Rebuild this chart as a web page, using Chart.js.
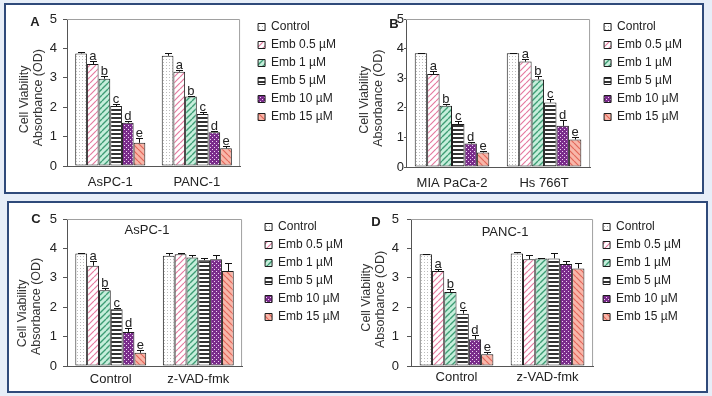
<!DOCTYPE html>
<html>
<head>
<meta charset="utf-8">
<script src="https://cdn.jsdelivr.net/npm/chart.js@4.4.0/dist/chart.umd.min.js"></script>
<style>
  html, body { margin: 0; padding: 0; background: #e7eef8; }
  body { width: 712px; height: 396px; position: relative; overflow: hidden; }
  .box { position: absolute; background: #fff; border: 2px solid #2f4a7a; box-sizing: border-box; }
  canvas { position: absolute; }
</style>
</head>
<body>
<div class="box" style="left:4px;top:3px;width:700px;height:191px"></div>
<div class="box" style="left:7px;top:201px;width:701px;height:192px"></div>
<canvas id="pA" width="334" height="187" style="left:12px;top:5px"></canvas>
<canvas id="pB" width="340" height="188" style="left:352px;top:5px"></canvas>
<canvas id="pC" width="343" height="187" style="left:10px;top:205px"></canvas>
<canvas id="pD" width="337" height="187" style="left:354px;top:205px"></canvas>
<script>
/* ─── Data ───────────────────────────────────────────────────────────────── */
const SERIES      = ['Control', 'Emb 0.5 µM', 'Emb 1 µM', 'Emb 5 µM', 'Emb 10 µM', 'Emb 15 µM'];
const SIG_LETTERS = ['', 'a', 'b', 'c', 'd', 'e'];

const catsA   = ['AsPC-1', 'PANC-1'];
const aspc1   = [3.83, 3.47, 2.97, 2.04, 1.47, 0.79];
const aspc1E  = [0.04, 0.11, 0.08, 0.08, 0.05, 0.16];
const panc1   = [3.75, 3.21, 2.36, 1.77, 1.15, 0.60];
const panc1E  = [0.10, 0.04, 0.03, 0.07, 0.04, 0.08];

const catsB   = ['MIA PaCa-2', 'Hs 766T'];
const mia     = [3.84, 3.14, 2.07, 1.45, 0.79, 0.49];
const miaE    = [0.02, 0.10, 0.07, 0.11, 0.04, 0.04];
const hs766   = [3.84, 3.56, 2.96, 2.18, 1.39, 0.93];
const hs766E  = [0.02, 0.08, 0.10, 0.11, 0.19, 0.09];

const catsCD  = ['Control', 'z-VAD-fmk'];
const cCtrl   = [3.83, 3.41, 2.58, 1.93, 1.16, 0.45];
const cCtrlE  = [0.02, 0.16, 0.08, 0.05, 0.14, 0.11];
const cZvad   = [3.75, 3.80, 3.69, 3.60, 3.63, 3.23];
const cZvadE  = [0.10, 0.05, 0.09, 0.08, 0.15, 0.28];
const dCtrl   = [3.80, 3.23, 2.52, 1.78, 0.91, 0.40];
const dCtrlE  = [0.02, 0.07, 0.09, 0.14, 0.14, 0.08];
const dZvad   = [3.83, 3.63, 3.66, 3.66, 3.47, 3.32];
const dZvadE  = [0.06, 0.14, 0.03, 0.20, 0.11, 0.20];

const FONT = "'Liberation Sans', Arial, sans-serif";

/* ─── Fill patterns ──────────────────────────────────────────────────────── */
function pattern(kind) {
  const c = document.createElement('canvas');
  const g = c.getContext('2d');
  const size = { dots: 3, pink: 6, green: 6, lines: 4, purple: 4, salmon: 6 }[kind];
  c.width = c.height = size;
  const diag = (color, w, down) => {
    g.strokeStyle = color; g.lineWidth = w; g.beginPath();
    for (const k of [-size, 0, size]) {
      if (down) { g.moveTo(k, 0); g.lineTo(k + size, size); }
      else      { g.moveTo(k, size); g.lineTo(k + size, 0); }
    }
    g.stroke();
  };
  if (kind === 'dots')   { g.fillStyle = '#fff'; g.fillRect(0, 0, 3, 3); g.fillStyle = '#bdbdbd'; g.fillRect(1, 0, 1, 1); }
  if (kind === 'pink')   { g.fillStyle = '#fff'; g.fillRect(0, 0, 6, 6); diag('#e57aa0', 1.2, false); }
  if (kind === 'green')  { g.fillStyle = '#c6eedb'; g.fillRect(0, 0, 6, 6); diag('#3d9c74', 1.4, false); }
  if (kind === 'lines')  { g.fillStyle = '#fff'; g.fillRect(0, 0, 4, 4); g.fillStyle = '#333'; g.fillRect(0, 0, 4, 2); }
  if (kind === 'purple') { g.fillStyle = '#7a2c8b'; g.fillRect(0, 0, 4, 4); g.fillStyle = '#efd6f3'; g.fillRect(0, 0, 1, 1); g.fillRect(2, 2, 1, 1); }
  if (kind === 'salmon') { g.fillStyle = '#f8b6a9'; g.fillRect(0, 0, 6, 6); diag('#e2675a', 1.2, true); }
  return g.createPattern(c, 'repeat');
}
const FILLS = ['dots', 'pink', 'green', 'lines', 'purple', 'salmon'].map(pattern);

/* ─── Plot frame, error bars, letters, panel labels ─────────────────────── */
const decor = {
  id: 'decor',
  beforeDatasetsDraw(chart) {
    const { ctx, chartArea: a } = chart;
    ctx.save();
    ctx.strokeStyle = '#a0a0a0';
    ctx.lineWidth = 1;
    ctx.beginPath();
    ctx.moveTo(a.left, a.top + 0.5);
    ctx.lineTo(a.right - 0.5, a.top + 0.5);
    ctx.lineTo(a.right - 0.5, a.bottom);
    ctx.stroke();
    ctx.restore();
  },
  afterDatasetsDraw(chart, args, o) {
    const { ctx, chartArea: a } = chart;
    const y = chart.scales.y;
    ctx.save();
    ctx.strokeStyle = '#111';
    ctx.lineWidth = 1;
    ctx.fillStyle = '#222';
    ctx.textAlign = 'center';
    chart.data.datasets.forEach((ds, i) => {
      chart.getDatasetMeta(i).data.forEach((bar, j) => {
        const top = Math.round(y.getPixelForValue(ds.data[j] + ds.errors[j])) + 0.5;
        const x = Math.round(bar.x) + 0.5;
        ctx.beginPath();
        ctx.moveTo(x, bar.y); ctx.lineTo(x, top);
        ctx.moveTo(x - 3.5, top); ctx.lineTo(x + 3.5, top);
        ctx.stroke();
        if (o.sig.includes(j) && SIG_LETTERS[i]) {
          ctx.font = `13px ${FONT}`;
          ctx.textBaseline = 'bottom';
          ctx.fillText(SIG_LETTERS[i], bar.x, top + 1);
        }
      });
    });
    ctx.textBaseline = 'middle';
    ctx.font = `bold 13px ${FONT}`;
    ctx.fillText(o.letter, a.left + o.letterDx, a.top + o.letterDy);
    if (o.title) {
      ctx.font = `13px ${FONT}`;
      ctx.fillText(o.title, a.left + o.titleDx, a.top + o.titleDy);
    }
    ctx.restore();
  }
};

/* ─── Panel builder ──────────────────────────────────────────────────────── */
function panel(id, cats, groups, errGroups, g) {
  new Chart(document.getElementById(id), {
    type: 'bar',
    data: {
      labels: cats,
      datasets: SERIES.map((name, i) => ({
        label:              name,
        data:               groups.map(v => v[i]),
        errors:             errGroups.map(e => e[i]),
        backgroundColor:    FILLS[i],
        borderColor:        '#1c1c1c',
        borderWidth:        1,
        borderSkipped:      false,
        categoryPercentage: 0.81,
        barPercentage:      1
      }))
    },
    options: {
      responsive: false,
      animation:  false,
      layout:     { padding: 0 },
      scales: {
        x: {
          grid:   { display: false },
          border: { color: '#555' },
          ticks:  { padding: g.xPad, color: '#222', font: { size: 13, family: FONT } },
          afterFit: s => { s.height = 26; s.paddingLeft = 0; s.paddingRight = 0; }
        },
        y: {
          min: 0, max: 5,
          ticks:  { stepSize: 1, padding: g.yPad, color: '#222', font: { size: 13, family: FONT } },
          grid:   { drawOnChartArea: false, tickLength: g.tick, color: '#555' },
          border: { color: '#555' },
          title: {
            display: true,
            // trailing spaces nudge the rotated lines down, as in the source figure
            text:    ['Cell Viability' + ' '.repeat(g.sp[0]), 'Absorbance (OD)' + ' '.repeat(g.sp[1])],
            color:   '#333',
            font:    { size: 12.5, family: FONT, lineHeight: 1.1 },
            padding: { top: 6, bottom: 0 }
          },
          afterFit: s => { s.width = g.yw; s.paddingTop = 0; s.paddingBottom = 0; }
        },
        x2: {
          type: 'linear', position: 'top',
          ticks: { display: false }, grid: { display: false },
          border: { display: false },
          afterFit: s => { s.height = 14; }
        },
        y2: {
          type: 'linear', position: 'right',
          ticks: { display: false }, grid: { display: false },
          border: { display: false },
          afterFit: s => { s.width = g.y2w; }
        }
      },
      plugins: {
        legend: {
          position: 'right',
          align:    'start',
          maxWidth: 200,
          title:    { display: true, text: '', padding: 0, font: { size: 10, lineHeight: 1 } },
          labels: {
            boxWidth: 7, boxHeight: 7, padding: 6,
            color: '#222', font: { size: 12, family: FONT }
          }
        },
        tooltip: { enabled: false },
        decor: g.decor
      }
    },
    plugins: [decor]
  });
}

panel('pA', catsA, [aspc1, panc1], [aspc1E, panc1E], {
  yw: 55, y2w: 12, xPad: 1, yPad: 6, tick: 4, sp: [4, 3],
  decor: { sig: [0, 1], letter: 'A', letterDx: -32, letterDy: 3 }
});
panel('pB', catsB, [mia, hs766], [miaE, hs766E], {
  yw: 54, y2w: 8, xPad: 1, yPad: 0, tick: 2, sp: [4, 3],
  decor: { sig: [0, 1], letter: 'B', letterDx: -12, letterDy: 5 }
});
panel('pC', catsCD, [cCtrl, cZvad], [cCtrlE, cZvadE], {
  yw: 57, y2w: 17, xPad: -2, yPad: 6, tick: 4, sp: [12, 8],
  decor: { sig: [0], letter: 'C', letterDx: -31, letterDy: 0, title: 'AsPC-1', titleDx: 80, titleDy: 11 }
});
panel('pD', catsCD, [dCtrl, dZvad], [dCtrlE, dZvadE], {
  yw: 57, y2w: 4, xPad: -4, yPad: 8, tick: 4, sp: [3, 4],
  decor: { sig: [0], letter: 'D', letterDx: -35, letterDy: 3, title: 'PANC-1', titleDx: 94, titleDy: 13 }
});
</script>
</body>
</html>
